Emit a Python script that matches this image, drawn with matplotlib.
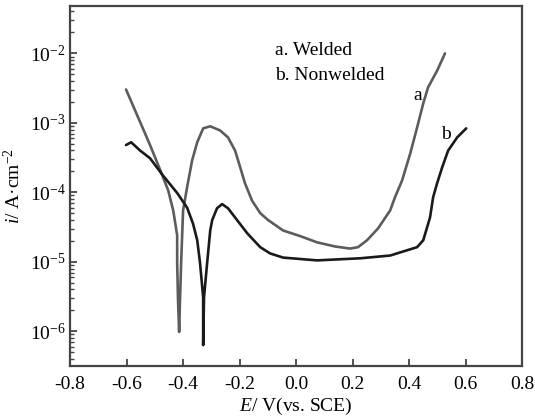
import numpy as np
import matplotlib

matplotlib.use("Agg")
import matplotlib.pyplot as plt
from matplotlib.ticker import FixedLocator, LogLocator, NullFormatter

plt.rcParams["font.family"] = ["Liberation Serif", "DejaVu Serif"]
plt.rcParams["mathtext.fontset"] = "custom"
plt.rcParams["mathtext.rm"] = "Liberation Serif"
plt.rcParams["mathtext.it"] = "Liberation Serif:italic"

# curve a: welded (potential in V vs SCE, log10 of current density)
E_welded = [-0.602, -0.517, -0.481, -0.453, -0.435, -0.421, -0.421, -0.418,
            -0.414, -0.411, -0.407, -0.404, -0.400, -0.386, -0.368, -0.350,
            -0.329, -0.304, -0.269, -0.241, -0.216, -0.198, -0.181, -0.156,
            -0.127, -0.099, -0.046, 0.014, 0.074, 0.138, 0.191, 0.219,
            0.251, 0.290, 0.333, 0.350, 0.375, 0.404, 0.428, 0.450,
            0.467, 0.499, 0.527]
logi_welded = [-2.52, -3.32, -3.68, -3.97, -4.26, -4.62, -5.02, -5.55,
               -6.01, -5.55, -5.02, -4.69, -4.26, -3.93, -3.54, -3.28,
               -3.08, -3.05, -3.11, -3.21, -3.40, -3.64, -3.87, -4.12,
               -4.30, -4.40, -4.55, -4.63, -4.72, -4.78, -4.81, -4.79,
               -4.69, -4.52, -4.26, -4.07, -3.83, -3.44, -3.07, -2.72,
               -2.49, -2.25, -2.00]

# curve b: nonwelded
E_nonwelded = [-0.602, -0.584, -0.552, -0.517, -0.471, -0.421, -0.386, -0.365,
               -0.350, -0.340, -0.329, -0.329, -0.326, -0.315, -0.304, -0.297,
               -0.280, -0.262, -0.241, -0.209, -0.173, -0.127, -0.092, -0.046,
               0.074, 0.227, 0.333, 0.428, 0.450, 0.474, 0.485, 0.499,
               0.517, 0.538, 0.570, 0.602]
logi_nonwelded = [-3.32, -3.28, -3.40, -3.51, -3.76, -4.01, -4.22, -4.45,
                  -4.69, -5.02, -5.51, -6.20, -5.51, -5.02, -4.55, -4.40,
                  -4.23, -4.17, -4.23, -4.40, -4.59, -4.79, -4.88, -4.94,
                  -4.98, -4.95, -4.91, -4.79, -4.69, -4.36, -4.07, -3.87,
                  -3.64, -3.40, -3.21, -3.08]

x_ticks = [-0.8, -0.6, -0.4, -0.2, 0.0, 0.2, 0.4, 0.6, 0.8]
y_ticks = [1e-6, 1e-5, 1e-4, 1e-3, 1e-2]
y_tick_labels = ["10$^{-6}$", "10$^{-5}$", "10$^{-4}$", "10$^{-3}$", "10$^{-2}$"]

fig = plt.figure(figsize=(5.35, 4.19), dpi=100)
ax = fig.add_axes([0.131, 0.1265, 0.845, 0.859])

line_kw = dict(lw=1.9, solid_joinstyle="round", solid_capstyle="round")
ax.plot(E_welded, 10 ** np.array(logi_welded), color="#5c5c5c", **line_kw)
ax.plot(E_nonwelded, 10 ** np.array(logi_nonwelded), color="#1a1a1a", **line_kw)

ax.set_yscale("log")
ax.set_xlim(-0.8, 0.8)
ax.set_ylim(10 ** -6.5, 10 ** -1.32)

ax.xaxis.set_major_locator(FixedLocator(x_ticks))
ax.set_xticklabels(["%.1f" % v for v in x_ticks])
ax.set_yticks(y_ticks)
ax.set_yticklabels(y_tick_labels)
ax.yaxis.set_minor_locator(LogLocator(base=10, subs=np.arange(2, 10)))
ax.yaxis.set_minor_formatter(NullFormatter())

ax.tick_params(which="both", direction="in", colors="#444444", labelcolor="black",
               labelsize=14, top=False, right=False)
ax.tick_params(which="major", length=5, width=1.3)
ax.tick_params(which="minor", length=3, width=1.0)
ax.tick_params(axis="x", pad=7)
ax.tick_params(axis="y", pad=3)
for s in ax.spines.values():
    s.set_color("#444444")
    s.set_linewidth(1.6)

ax.set_xlabel("$\\mathit{E}$/ V(vs. SCE)", fontsize=14, labelpad=2)
ax.set_ylabel("$\\mathit{i}$/ A·cm$^{-2}$", fontsize=14, labelpad=4)

ax.text(-0.074, 10 ** -1.96, "a. Welded", fontsize=14, va="center")
ax.text(-0.074, 10 ** -2.32, "b. Nonwelded", fontsize=14, va="center")
ax.text(0.430, 10 ** -2.60, "a", fontsize=14, va="center", ha="center")
ax.text(0.531, 10 ** -3.17, "b", fontsize=14, va="center", ha="center")

fig.savefig("out.png", dpi=100)
plt.close(fig)
